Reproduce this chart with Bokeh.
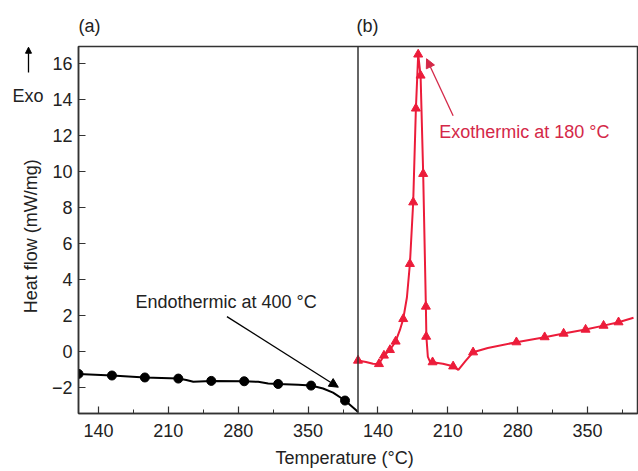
from bokeh.plotting import figure
from bokeh.layouts import row
from bokeh.models import (Range1d, FixedTicker, Span, Label, Arrow, NormalHead, LinearAxis, Title)
from bokeh.embed import file_html
from bokeh.resources import INLINE
import math

# ---------------- data ----------------
# panel (a): black curve, Endothermic
a_line_T = [120, 153.5, 186.5, 220, 228, 235, 253, 286, 300, 310, 320, 340, 353, 365, 375, 387, 398.5, 400]
a_line_hf = [-1.24, -1.33, -1.44, -1.50, -1.58, -1.68, -1.63, -1.65, -1.68, -1.77, -1.80, -1.84, -1.89, -2.05, -2.28, -2.72, -3.28, -3.36]
a_mark_T = [120, 153.5, 186.5, 220, 253, 286, 320, 353, 387]
a_mark_hf = [-1.24, -1.33, -1.44, -1.50, -1.63, -1.65, -1.80, -1.89, -2.72]

# panel (b): red curve, Exothermic
b_line_T = [120, 128, 135, 141, 146, 152, 157.7, 162, 165.3, 169, 172, 175.3, 178, 180.3, 182.7, 185.3,
            188, 188.5, 190, 192, 194.7, 205, 215.3, 220.5, 228, 235.3, 250, 278.7, 307, 326, 348, 366, 381, 396]
b_line_hf = [-0.50, -0.58, -0.68, -0.69, -0.22, 0.09, 0.56, 1.20, 1.81, 3.00, 4.87, 8.29, 13.5, 16.5, 15.33, 9.87,
             2.50, 0.83, -0.30, -0.55, -0.59, -0.68, -0.82, -1.02, -0.50, -0.04, 0.20, 0.52, 0.80, 1.00, 1.22, 1.44, 1.63, 1.88]
b_mark_T = [120, 141, 146, 152, 157.7, 165.3, 172, 175.3, 178, 180.3, 182.7, 185.3, 188, 188.3, 194.7, 215.3,
            235.3, 278.7, 307, 326, 348, 366, 381]
b_mark_hf = [-0.50, -0.69, -0.22, 0.09, 0.56, 1.81, 4.87, 8.29, 13.5, 16.5, 15.33, 9.87, 2.50, 0.83, -0.59, -0.82,
             -0.04, 0.52, 0.80, 1.00, 1.22, 1.44, 1.63]

x_ticks = [140, 210, 280, 350]
x_minor = [175, 245, 315, 385]
y_ticks = [-2, 0, 2, 4, 6, 8, 10, 12, 14, 16]
panel_labels = ["(a)", "(b)"]
T_MIN, T_MAX = 120, 400
HF_MIN, HF_MAX = -3.44, 16.94

FONT = "Liberation Sans"
TXT = "#222222"
RED_LINE = "#ec1c3a"
RED_TXT = "#d42848"
FS = "18px"

# layout geometry (pixels)
LEFT_W = 48          # strip holding "Exo" and the y-axis title
FRAME_W, FRAME_H = 559, 367
TOP, BOTTOM = 46, 58

span = T_MAX - T_MIN

# ---------------- main plot ----------------
p = figure(frame_width=FRAME_W, frame_height=FRAME_H, output_backend="svg", toolbar_location=None,
           x_range=Range1d(T_MIN, T_MAX + span), y_range=Range1d(HF_MIN, HF_MAX),
           min_border_left=78 - LEFT_W, min_border_right=1, min_border_top=TOP, min_border_bottom=BOTTOM,
           background_fill_color="white", border_fill_color="white")
p.extra_x_ranges = {"b": Range1d(T_MIN - span, T_MAX)}

p.grid.visible = False
p.outline_line_color = "#333333"
p.outline_line_width = 1.5

p.xaxis.ticker = FixedTicker(ticks=x_ticks + [t + span for t in x_ticks],
                             minor_ticks=x_minor + [t + span for t in x_minor])
overrides = {}
for t in x_ticks:
    overrides[t] = str(t)
    overrides[t + span] = str(t)
p.xaxis.major_label_overrides = overrides
p.yaxis.ticker = FixedTicker(ticks=y_ticks)

for ax in (p.xaxis[0], p.yaxis[0]):
    ax.axis_line_color = "#333333"
    ax.axis_line_width = 1.5
    ax.major_tick_in = 7
    ax.major_tick_out = 0
    ax.minor_tick_in = 4
    ax.minor_tick_out = 0
    ax.major_tick_line_color = "#333333"
    ax.major_tick_line_width = 1.2
    ax.minor_tick_line_color = "#333333"
    ax.major_label_text_font = FONT
    ax.major_label_text_font_size = FS
    ax.major_label_text_color = TXT
p.yaxis.minor_tick_line_color = None
p.xaxis.major_label_standoff = 10
p.yaxis.major_label_standoff = 6

# panel letters on a label-only axis above the frame
top_ax = LinearAxis(ticker=FixedTicker(ticks=[131, T_MAX + 9.5]),
                    major_label_overrides={131: panel_labels[0], T_MAX + 9.5: panel_labels[1]},
                    axis_line_color=None, major_tick_line_color=None, minor_tick_line_color=None,
                    major_label_standoff=5, major_label_text_font=FONT, major_label_text_font_size=FS,
                    major_label_text_color=TXT)
p.add_layout(top_ax, "above")

# shared x-axis title
p.add_layout(Title(text="Temperature (°C)", align="left", offset=197, text_font=FONT, text_font_size=FS,
                   text_font_style="normal", text_color=TXT, standoff=13), "below")

# divider between panels
p.add_layout(Span(location=T_MAX, dimension="height", line_color="#333333", line_width=1.5))

# panel (a)
p.line(a_line_T, a_line_hf, line_color="black", line_width=2)
p.scatter(a_mark_T, a_mark_hf, marker="circle", size=9, fill_color="black", line_color="black")

# panel (b)
p.line(b_line_T, b_line_hf, line_color=RED_LINE, line_width=2, x_range_name="b")
p.scatter(b_mark_T, b_mark_hf, marker="triangle", size=9, fill_color=RED_LINE, line_color=RED_LINE,
          x_range_name="b")

# annotations
p.add_layout(Arrow(x_start=268.7, y_start=1.94, x_end=380.3, y_end=-1.98, line_color="black", line_width=1.3,
                   end=NormalHead(size=9, fill_color="black", line_color="black")))
p.add_layout(Label(x=177, y=2.74, text="Endothermic at 400 °C", text_font=FONT, text_font_size=FS,
                   text_color=TXT, text_baseline="middle"))

p.add_layout(Arrow(x_start=215.3, y_start=13.1, x_end=188.7, y_end=16.26, line_color=RED_TXT, line_width=1.3,
                   x_range_name="b",
                   end=NormalHead(size=9, fill_color=RED_TXT, line_color=RED_TXT)))
p.add_layout(Label(x=201.3, y=12.18, text="Exothermic at 180 °C", text_font=FONT, text_font_size=FS,
                   text_color=RED_TXT, text_baseline="middle", x_range_name="b"))

# ---------------- left strip: Exo marker and y-axis title ----------------
q = figure(frame_width=LEFT_W, frame_height=FRAME_H, output_backend="svg", toolbar_location=None,
           x_axis_type=None, y_axis_type=None,
           min_border_left=0, min_border_right=0, min_border_top=TOP, min_border_bottom=BOTTOM,
           x_range=Range1d(0, LEFT_W), y_range=Range1d(HF_MIN, HF_MAX),
           outline_line_color=None, background_fill_color="white", border_fill_color="white")
q.grid.visible = False
q.add_layout(Label(x=12, y=14.2, text="Exo", text_font=FONT, text_font_size=FS,
                   text_color=TXT, text_baseline="middle"))
q.add_layout(Arrow(x_start=28, y_start=15.5, x_end=28, y_end=16.9, line_color="black", line_width=1.3,
                   end=NormalHead(size=6, fill_color="black", line_color="black")))
q.add_layout(Label(x=30, y=6.4, text="Heat flow (mW/mg)", angle=math.pi / 2, text_font=FONT,
                   text_font_size=FS, text_color=TXT, text_align="center", text_baseline="middle"))

layout = row(q, p, spacing=0)
open("out.html", "w").write(file_html(layout, INLINE))
